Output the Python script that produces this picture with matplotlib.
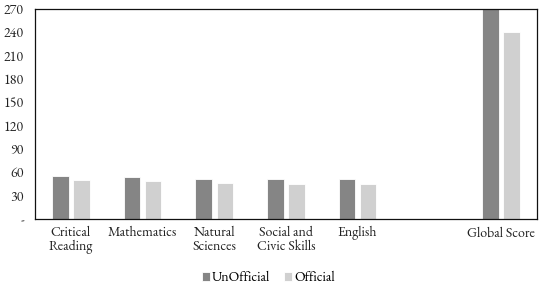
import numpy as np
import matplotlib
matplotlib.use('Agg')
import matplotlib.pyplot as plt

plt.rcParams['font.family'] = ['EB Garamond', 'Liberation Serif', 'DejaVu Serif']

categories = ['Critical\nReading', 'Mathematics', 'Natural\nSciences', 'Social and\nCivic Skills', 'English', '', 'Global Score']
unofficial = [55, 54, 51, 52, 52, np.nan, 278]
official = [50, 49, 46.5, 45.5, 44.5, np.nan, 240]
yticks = [0, 30, 60, 90, 120, 150, 180, 210, 240, 270]
ytick_labels = ['-', '30', '60', '90', '120', '150', '180', '210', '240', '270']

fig = plt.figure(figsize=(5.39, 2.86), dpi=100)
ax = fig.add_axes([0.065, 0.234, 0.931, 0.735])

x = np.arange(len(categories))
w = 0.23
ax.bar(x - 0.147, unofficial, w, color='#858585', edgecolor='white', linewidth=0.6, label='UnOfficial')
ax.bar(x + 0.147, official, w, color='#d0d0d0', edgecolor='white', linewidth=0.6, label='Official')

ax.set_xlim(-0.5, len(categories) - 0.5)
ax.set_ylim(0, 270)
ax.set_yticks(yticks)
ax.set_yticklabels(ytick_labels)
ax.set_xticks(x)
ax.set_xticklabels(categories, va='top', linespacing=0.95)
ax.tick_params(length=0, labelsize=10, colors='#222222')
ax.tick_params(axis='x', pad=5)
ax.tick_params(axis='y', pad=8)
for s in ax.spines.values():
    s.set_linewidth(0.9)
    s.set_color('#111111')

ax.legend(loc='upper center', bbox_to_anchor=(0.465, -0.2), ncol=2, frameon=False,
          fontsize=10, handlelength=0.6, handleheight=0.6, handletextpad=0.15, columnspacing=1.0,
          borderpad=0.2)

fig.savefig('out.png', dpi=100)
